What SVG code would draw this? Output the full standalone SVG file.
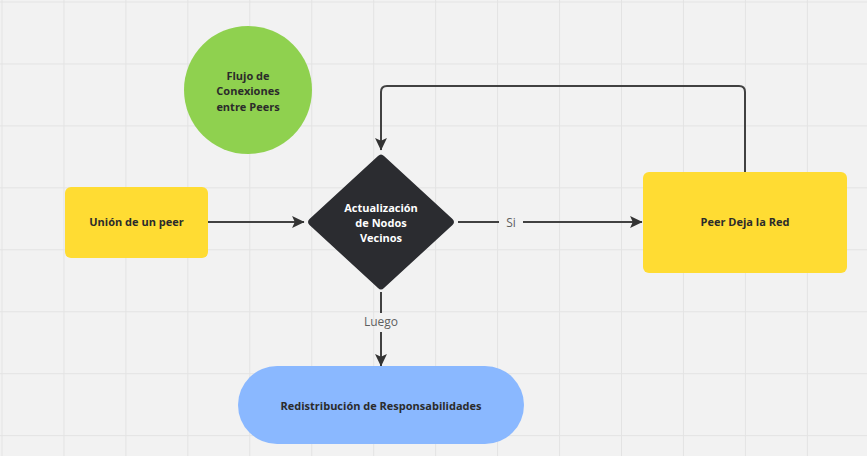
<svg xmlns="http://www.w3.org/2000/svg" width="867" height="456" viewBox="0 0 867 456">
<defs>
<pattern id="grid" x="1.5" y="1.5" width="61.95" height="61.95" patternUnits="userSpaceOnUse">
<path d="M0 0H61.95M0 0V61.95" fill="none" stroke="#e3e3e3" stroke-width="2"/>
</pattern>
<marker id="arr" viewBox="0 0 12 12" refX="11" refY="6" markerWidth="13" markerHeight="13" markerUnits="userSpaceOnUse" orient="auto">
<path d="M0 0.5L11.5 6L0 11.5L2.5 6Z" fill="#333333"/>
</marker>
<style>
.lbl{font-family:"Open Sans","Liberation Sans",sans-serif;font-weight:700;font-size:11px;fill:#2b2b2b;text-anchor:middle}
.wlbl{font-family:"Open Sans","Liberation Sans",sans-serif;font-weight:700;font-size:11px;fill:#ffffff;text-anchor:middle}
.elbl{font-family:"Open Sans","Liberation Sans",sans-serif;font-size:12px;fill:#5f5f5f;text-anchor:middle}
.con{fill:none;stroke:#414141;stroke-width:2}
</style>
</defs>
<rect width="867" height="456" fill="#f2f2f2"/>
<rect width="867" height="456" fill="url(#grid)"/>

<g id="connectors">
<path class="con" d="M208 222H304" marker-end="url(#arr)"/>
<path class="con" d="M458 222H499M523 222H642" marker-end="url(#arr)"/>
<text class="elbl" x="511" y="227" font-size="13">Si</text>
<path class="con" d="M745 172V92Q745 86 739 86H387Q381 86 381 92V150" marker-end="url(#arr)"/>
<path class="con" d="M381 292V313M381 332V366" marker-end="url(#arr)"/>
<text class="elbl" x="381" y="326" font-size="11">Luego</text>
</g>

<g id="node-title">
<circle cx="248" cy="90" r="64" fill="#8fd14f"/>
<text class="lbl" x="248" y="80">Flujo de</text>
<text class="lbl" x="248" y="95">Conexiones</text>
<text class="lbl" x="248" y="111">entre Peers</text>
</g>

<g id="node-union">
<rect x="65" y="187" width="143" height="71" rx="6" fill="#ffdc33"/>
<text class="lbl" x="136.5" y="226">Unión de un peer</text>
</g>

<g id="node-actualizacion">
<path d="M378 156Q381 153 384 156L452.5 219Q455.5 222 452.5 225L384 288Q381 291 378 288L309.5 225Q306.5 222 309.5 219Z" fill="#2b2c30"/>
<text class="wlbl" x="381" y="212">Actualización</text>
<text class="wlbl" x="381" y="227">de Nodos</text>
<text class="wlbl" x="381" y="242">Vecinos</text>
</g>

<g id="node-peer-deja">
<rect x="643" y="172" width="204" height="101" rx="6" fill="#ffdc33"/>
<text class="lbl" x="745" y="226">Peer Deja la Red</text>
</g>

<g id="node-redistribucion">
<rect x="238" y="366" width="286" height="78" rx="39" fill="#8ab8ff"/>
<text class="lbl" x="381" y="410">Redistribución de Responsabilidades</text>
</g>
</svg>
